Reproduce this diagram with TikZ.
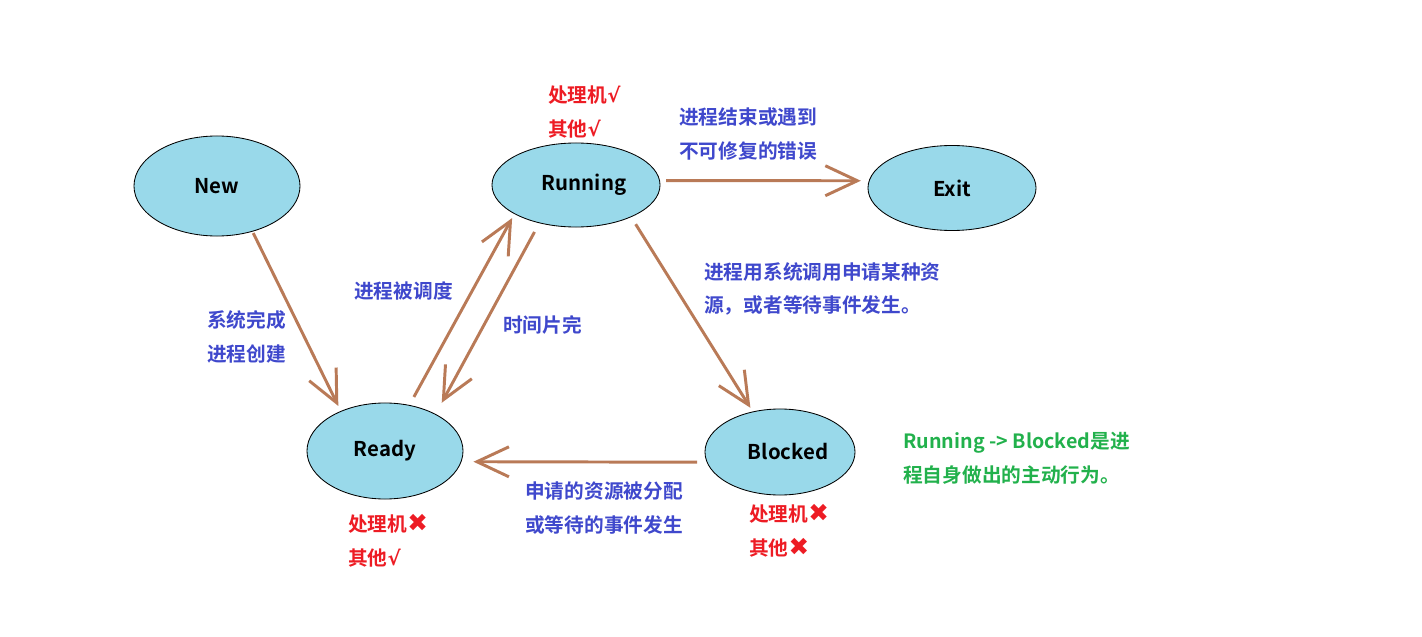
\documentclass[tikz,border=0pt]{standalone}
\usepackage{fontspec}
\setmainfont{Noto Sans CJK SC}[BoldFont={Noto Sans CJK SC Bold}]
\newfontfamily\symfont{DejaVu Sans}[BoldFont={DejaVu Sans Bold}]
\usetikzlibrary{shapes.geometric,arrows.meta}
\definecolor{statefill}{RGB}{153,217,234}
\definecolor{arrowbrown}{RGB}{185,122,87}
\definecolor{noteblue}{RGB}{63,72,204}
\definecolor{markred}{RGB}{237,28,36}
\definecolor{remarkgreen}{RGB}{34,177,76}
\newcommand{\nox}{{\symfont\fontsize{17.5}{24}\selectfont ✖}}
\newcommand{\yes}{{\symfont √}}
\begin{document}
\begin{tikzpicture}
[x=0.025cm,y=-0.025cm,
  statedecorate/.style={shape=ellipse,draw=black,line width=0.6pt,fill=statefill,inner sep=0pt,outer sep=0pt,font=\fontsize{14.5}{17}\selectfont\bfseries},%
  linedecorate/.style={-{Straight Barb[length=0.8cm,width=0.75cm]},line width=2.1pt,draw=arrowbrown},%
  textdecorate/.style={anchor=west,align=left,inner sep=0pt,font=\fontsize{14}{24}\selectfont\bfseries},%
  notedecorate/.style={textdecorate,text=noteblue},%
  markdecorate/.style={textdecorate,text=markred},%
  remarkdecorate/.style={textdecorate,text=remarkgreen}]
\useasboundingbox (0,0) rectangle (1422,637);
%%% process states
% nodes or states
\node (new) at (217,186) [statedecorate,minimum width=4.15cm,minimum height=2.5cm] {New};
\node (run) at (576,185) [statedecorate,minimum width=4.2cm,minimum height=2.1cm] {\hspace*{0.4cm}Running};
\node (exit) at (952,188) [statedecorate,minimum width=4.2cm,minimum height=2.125cm] {Exit};
\node (ready) at (385,451) [statedecorate,minimum width=3.9cm,minimum height=2.4cm] {Ready};
\node (blk) at (780,452) [statedecorate,minimum width=3.75cm,minimum height=2.15cm] {\hspace*{0.4cm}Blocked};
% resources held in each state
\node (runres) at (548,112) [markdecorate] {处理机\yes\\其他\yes};
\node (readyres) at (348,541) [markdecorate] {处理机\nox\\其他\yes};
\node (blkres) at (749,531) [markdecorate] {处理机\nox\\其他\nox};
% edges or transitions
\path
(new.-52) edge[linedecorate,shorten <=0.05cm,shorten >=0.15cm] (ready.138)
(ready.62) edge[linedecorate,shorten <=0.24cm,shorten >=0.125cm] (run.205)
(run.226) edge[linedecorate,shorten <=0.26cm,shorten >=0.33cm] (ready.36)
(run.3) edge[linedecorate,shorten <=0.165cm,shorten >=0.21cm] (exit.175)
(run.-30) edge[linedecorate,shorten <=0.22cm,shorten >=0.12cm] (blk.124)
(blk.188) edge[linedecorate,shorten <=0.25cm,shorten >=0.31cm] (ready.-8);
% transition labels
\node (admit) at (207,337) [notedecorate] {系统完成\\进程创建};
\node (dispatch) at (354,291) [notedecorate] {进程被调度};
\node (timeout) at (503,325) [notedecorate] {时间片完};
\node (release) at (679,134) [notedecorate] {进程结束或遇到\\不可修复的错误};
\node (wait) at (704,289) [notedecorate] {进程用系统调用申请某种资\\源，或者等待事件发生。};
\node (wakeup) at (525,508) [notedecorate] {申请的资源被分配\\或等待的事件发生};
%
%%% remark
\node (remark) at (903,458) [remarkdecorate] {Running -> Blocked是进\\程自身做出的主动行为。};
\end{tikzpicture}
\end{document}
